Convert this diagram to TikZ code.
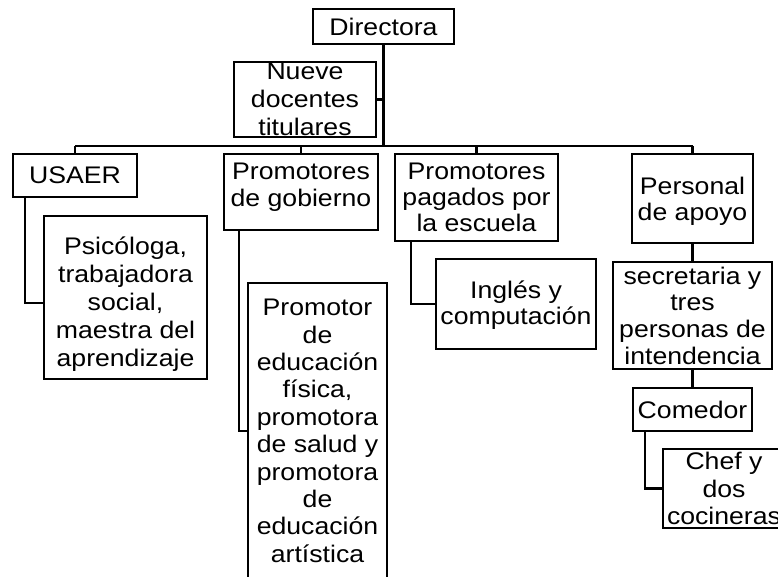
\documentclass[tikz,border=0pt]{standalone}
\usepackage{fontspec}
\setmainfont[FakeStretch=1.11]{Liberation Sans}
\newcommand\boxtextfont[1]{\fontsize{24}{#1}\selectfont\lineskiplimit -50pt\relax}
\begin{document}
\begin{tikzpicture}[x=1pt,y=-1pt,
  box/.style={draw, line width=2.2pt, inner sep=0pt},
  txt/.style={align=center, inner sep=0pt, font=\boxtextfont{#1}},
  txt/.default=27,
  conn/.style={line width=2.2pt},
  trunk/.style={line width=3pt}]
\fill[white] (0,0) rectangle (778,577);
\useasboundingbox (0,0) rectangle (778,577);
\clip (0,0) rectangle (778,577);
% boxes
\node[box, minimum width=141pt, minimum height=35pt] (dir) at (383.5,26.5) {};
\node[box, minimum width=142pt, minimum height=75pt] (nueve) at (305,99.5) {};
\node[box, minimum width=124pt, minimum height=43pt] (usaer) at (75,175.5) {};
\node[box, minimum width=154pt, minimum height=76pt] (gob) at (301,192) {};
\node[box, minimum width=163pt, minimum height=87pt] (pag) at (476.5,197.5) {};
\node[box, minimum width=121pt, minimum height=89pt] (apoyo) at (692.5,198.5) {};
\node[box, minimum width=163pt, minimum height=163pt] (psi) at (125.5,297.5) {};
\node[box, minimum width=139pt, minimum height=296pt] (prom) at (317.5,431) {};
\node[box, minimum width=160pt, minimum height=90pt] (ingles) at (516,304) {};
\node[box, minimum width=159pt, minimum height=107pt] (secre) at (692.5,315.5) {};
\node[box, minimum width=119pt, minimum height=43pt] (comedor) at (692.5,409.5) {};
\node[box, minimum width=116pt, minimum height=79pt] (chef) at (721,488.5) {};
% texts
\node[txt] at (dir.center) {Directora};
\node[txt=28] at (nueve.center) {Nueve\\docentes\\titulares};
\node[txt] at (usaer.center) {USAER};
\node[txt, anchor=north] at (301,163) {Promotores\\de gobierno};
\node[txt=26, anchor=north] at (476.5,163) {Promotores\\pagados por\\la escuela};
\node[txt=26, anchor=north] at (692.5,177) {Personal\\de apoyo};
\node[txt=28, anchor=north] at (125.5,237) {Psicóloga,\\trabajadora\\social,\\maestra del\\aprendizaje};
\node[txt=27.4, anchor=north] at (317.5,299) {Promotor\\de\\educación\\física,\\promotora\\de salud y\\promotora\\de\\educación\\artística};
\node[txt=26, anchor=north] at (516,280.5) {Inglés y\\computación};
\node[txt=26.8, anchor=north] at (692.5,266.5) {secretaria y\\tres\\personas de\\intendencia};
\node[txt] at (comedor.center) {Comedor};
\node[txt=27.5, anchor=north] at (724,452) {Chef y\\dos\\cocineras};
% connectors
\coordinate (bar) at (383,146);
\draw[trunk] (dir.south) -- (dir.south |- bar);
\draw[conn] (nueve.east) -- (nueve.east -| dir.south);
\draw[conn] (usaer.north |- bar) -- (apoyo.north |- bar);
\draw[conn] (usaer.north |- bar) -- (usaer.north);
\draw[conn] (gob.north |- bar) -- (gob.north);
\draw[conn] (pag.north |- bar) -- (pag.north);
\draw[conn] (apoyo.north |- bar) -- (apoyo.north);
\draw[conn] ([xshift=13pt]usaer.south west) |- ([yshift=-5.5pt]psi.west);
\draw[conn] ([xshift=16pt]gob.south west) |- (prom.west);
\draw[conn] ([xshift=17pt]pag.south west) |- (ingles.west);
\draw[conn] (apoyo.south) -- (secre.north);
\draw[conn] (secre.south) -- (comedor.north);
\draw[conn] ([xshift=13pt]comedor.south west) |- (chef.west);
\end{tikzpicture}
\end{document}
